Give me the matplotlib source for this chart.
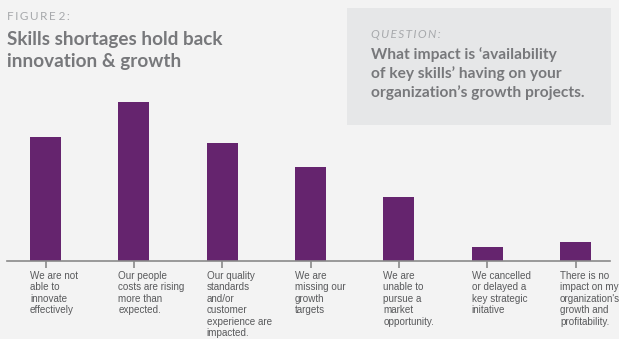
import matplotlib.pyplot as plt
from matplotlib.patches import Rectangle

# data (relative bar heights)
categories = [
    "We are not\nable to\ninnovate\neffectively",
    "Our people\ncosts are rising\nmore than\nexpected.",
    "Our quality\nstandards\nand/or\ncustomer\nexperience are\nimpacted.",
    "We are\nmissing our\ngrowth\ntargets",
    "We are\nunable to\npursue a\nmarket\nopportunity.",
    "We cancelled\nor delayed a\nkey strategic\ninitative",
    "There is no\nimpact on my\norganization's\ngrowth and\nprofitability.",
]
values = [124, 159, 118, 94, 64, 14, 19]

title_lines = ["Skills shortages hold back", "innovation & growth"]
question_lines = ["What impact is \u2018availability",
                  "of key skills\u2019 having on your",
                  "organization\u2019s growth projects."]

W, H = 619, 339
bg = "#f3f3f3"
bar_color = "#65246e"
text_gray = "#77787b"

fig = plt.figure(figsize=(W / 100, H / 100), dpi=100)
fig.patch.set_facecolor(bg)

def fx(px):
    return px / W

def fy(py):
    return 1 - py / H

# question box
fig.patches.append(Rectangle((fx(347), fy(125)), fx(611) - fx(347), fy(8) - fy(125),
                             transform=fig.transFigure, facecolor="#e6e7e8",
                             edgecolor="none", zorder=0))

fig.text(fx(7), fy(16), "F I G U R E  2 :".replace(" ", "\u2009").replace("\u2009\u2009", " "),
         fontsize=8.5, color="#a7a9ac", family="Lato", va="center", ha="left")
for i, line in enumerate(title_lines):
    fig.text(fx(7), fy(39 + 23 * i), line, fontsize=13.6, color=text_gray,
             family="Lato", weight="bold", va="center", ha="left")

fig.text(fx(371), fy(34), "Q U E S T I O N :".replace(" ", "\u2009"),
         fontsize=8.5, color="#a7a9ac", family="Lato", style="italic",
         va="center", ha="left")
for i, line in enumerate(question_lines):
    fig.text(fx(371), fy(55 + 19 * i), line, fontsize=11.2, color=text_gray,
             family="Lato", weight="bold", va="center", ha="left")

# bar chart
ax = fig.add_axes([fx(7), fy(261), fx(610) - fx(7), fy(90) - fy(261)])
ax.set_facecolor("none")
x = list(range(len(values)))
width = 0.35
ax.bar(x, values, width=width, color=bar_color, zorder=2)
ax.set_xlim(-0.436, 6.39)
ax.set_ylim(0, 171)

for s in ["top", "right", "left"]:
    ax.spines[s].set_visible(False)
ax.spines["bottom"].set_color("#8a8a8a")
ax.spines["bottom"].set_linewidth(1.2)
ax.set_yticks([])
ax.set_xticks(x)
ax.set_xticklabels([])
ax.tick_params(axis="x", length=5, width=1.2, color="#8a8a8a", direction="out")

for i, lab in enumerate(categories):
    ax.text(i - width / 2, -10, lab, fontsize=7.1, color="#58595b",
            family="Liberation Sans", ha="left", va="top",
            linespacing=1.18, clip_on=False)

fig.savefig("out.png", dpi=100, facecolor=bg)
